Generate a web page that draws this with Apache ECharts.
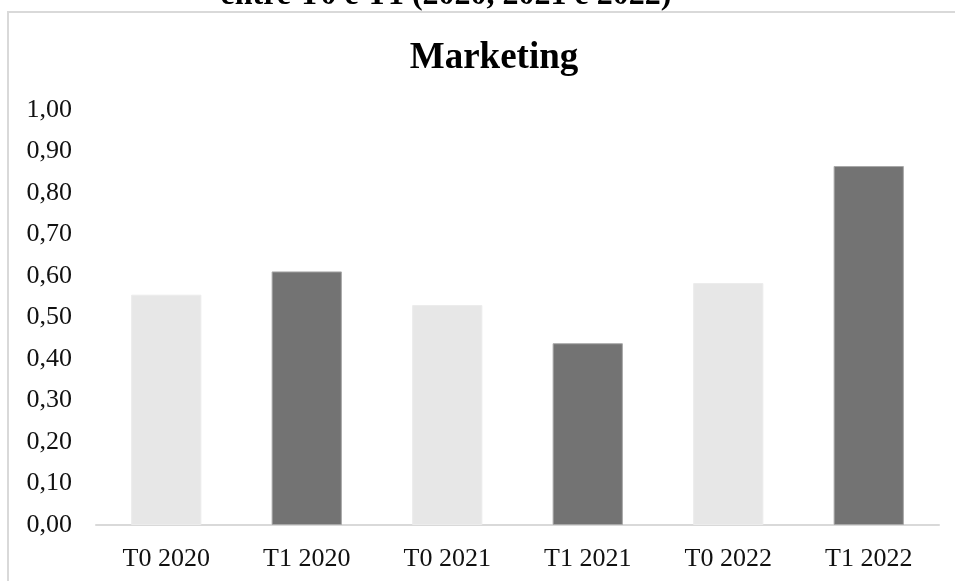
<!DOCTYPE html>
<html>
<head>
<meta charset="utf-8">
<title>Marketing</title>
<script src="https://cdn.jsdelivr.net/npm/echarts@6/dist/echarts.min.js"></script>
<style>
  html, body { margin: 0; padding: 0; background: #ffffff; }
  #chart { width: 955px; height: 581px; }
</style>
</head>
<body>
<div id="chart"></div>
<script>
// Periods (T0 = before, T1 = after) and the Marketing index for each
const categories = ['T0 2020', 'T1 2020', 'T0 2021', 'T1 2021', 'T0 2022', 'T1 2022'];
const values = [0.555, 0.611, 0.530, 0.438, 0.583, 0.865];
const yTicks = [0, 0.1, 0.2, 0.3, 0.4, 0.5, 0.6, 0.7, 0.8, 0.9, 1.0];

const serif = '"Liberation Serif", "DejaVu Serif", serif';
const LIGHT = '#e7e7e7';
const DARK = '#737373';

const chart = echarts.init(document.getElementById('chart'), null, { renderer: 'canvas' });

const barData = values.map((v, i) => {
  const isT0 = categories[i].startsWith('T0');
  return {
    value: v,
    itemStyle: {
      color: isT0 ? LIGHT : DARK,
      borderColor: isT0 ? '#ececec' : '#a8a8a8',
      borderWidth: 1
    }
  };
});

chart.setOption({
  animation: false,
  backgroundColor: '#ffffff',
  title: [
    {
      text: 'entre T0 e T1 (2020, 2021 e 2022)',
      left: 441,
      top: -25,
      textAlign: 'center',
      textStyle: { fontFamily: serif, fontWeight: 'bold', fontSize: 32, color: '#000000' }
    },
    {
      text: 'Marketing',
      left: 489,
      top: 35,
      textAlign: 'center',
      textStyle: { fontFamily: serif, fontWeight: 'bold', fontSize: 37, color: '#000000' }
    }
  ],
  graphic: [
    {
      type: 'rect',
      z: -1,
      shape: { x: 8, y: 12, width: 960, height: 590 },
      style: { fill: 'none', stroke: '#d9d9d9', lineWidth: 2 }
    }
  ],
  grid: { left: 96, right: 16, top: 110, bottom: 56, containLabel: false },
  xAxis: {
    type: 'category',
    data: categories,
    axisLine: { show: true, lineStyle: { color: '#d9d9d9', width: 2 } },
    axisTick: { show: false },
    axisLabel: { fontFamily: serif, fontSize: 26, color: '#111111', margin: 21 },
    splitLine: { show: false }
  },
  yAxis: {
    type: 'value',
    min: yTicks[0],
    max: yTicks[yTicks.length - 1],
    interval: 0.1,
    axisLine: { show: false },
    axisTick: { show: false },
    splitLine: { show: false },
    axisLabel: {
      fontFamily: serif,
      fontSize: 26,
      color: '#111111',
      margin: 24,
      formatter: v => v.toFixed(2).replace('.', ',')
    }
  },
  series: [
    {
      type: 'bar',
      data: barData,
      barWidth: '50%'
    }
  ]
});
</script>
</body>
</html>
